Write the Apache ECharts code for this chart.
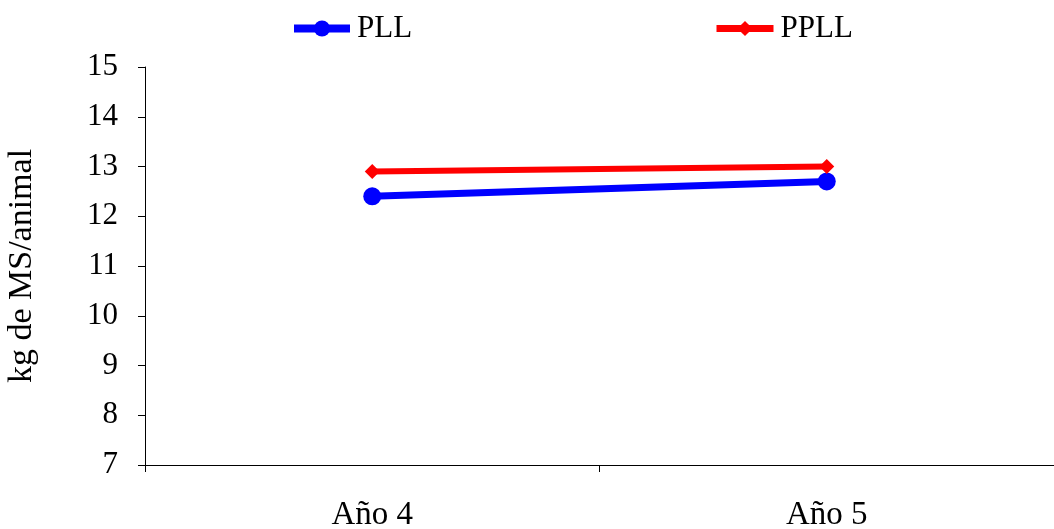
<!DOCTYPE html>
<html>
<head>
<meta charset="utf-8">
<script src="https://cdn.jsdelivr.net/npm/echarts@6/dist/echarts.min.js"></script>
<style>
  html, body { margin: 0; padding: 0; background: #fff; }
  #chart { width: 1054px; height: 529px; }
</style>
</head>
<body>
<div id="chart"></div>
<script>
// Dry-matter intake per animal, by year
const categories = ['Año 4', 'Año 5'];
const pllValues = [12.4, 12.7];
const ppllValues = [12.9, 13.0];
const yTicks = { min: 7, max: 15, interval: 1 };

const serif = '"Liberation Serif", "Times New Roman", serif';

const chart = echarts.init(document.getElementById('chart'), null, { renderer: 'canvas' });

chart.setOption({
  animation: false,
  backgroundColor: '#fff',
  legend: [
    {
      data: ['PLL'],
      left: 290, top: 13, padding: 0,
      itemWidth: 56, itemHeight: 20, itemGap: 6,
      lineStyle: { width: 8 },
      textStyle: { fontFamily: serif, fontSize: 31, color: '#000', padding: [0, 0, 0, 2] }
    },
    {
      data: ['PPLL'],
      left: 713, top: 13, padding: 0,
      itemWidth: 57, itemHeight: 19, itemGap: 6,
      lineStyle: { width: 7 },
      textStyle: { fontFamily: serif, fontSize: 31, color: '#000', padding: [0, 0, 0, 2] }
    }
  ],
  grid: { left: 145, right: 0, top: 67, bottom: 64, containLabel: false, outerBoundsMode: 'none' },
  xAxis: {
    type: 'category',
    data: categories,
    boundaryGap: true,
    axisLine: { lineStyle: { color: '#000', width: 1 } },
    axisTick: { show: true, length: 7, lineStyle: { color: '#000' } },
    axisLabel: { fontFamily: serif, fontSize: 33, color: '#000', margin: 34 },
    splitLine: { show: false }
  },
  yAxis: {
    type: 'value',
    min: yTicks.min, max: yTicks.max, interval: yTicks.interval,
    name: 'kg de MS/animal',
    nameLocation: 'middle',
    nameGap: 106,
    nameTextStyle: { fontFamily: serif, fontSize: 34, color: '#000' },
    axisLine: { show: true, lineStyle: { color: '#000', width: 1 } },
    axisTick: { show: true, length: 7, lineStyle: { color: '#000' } },
    axisLabel: { fontFamily: serif, fontSize: 31, color: '#000', margin: 27 },
    splitLine: { show: false }
  },
  series: [
    {
      name: 'PLL',
      type: 'line',
      data: pllValues,
      color: '#0000ff',
      symbol: 'circle',
      symbolSize: 18,
      lineStyle: { color: '#0000ff', width: 7 },
      itemStyle: { color: '#0000ff' },
      z: 2
    },
    {
      name: 'PPLL',
      type: 'line',
      data: ppllValues,
      color: '#ff0000',
      symbol: 'diamond',
      symbolSize: 15,
      lineStyle: { color: '#ff0000', width: 6 },
      itemStyle: { color: '#ff0000' },
      z: 3
    }
  ]
});
</script>
</body>
</html>
